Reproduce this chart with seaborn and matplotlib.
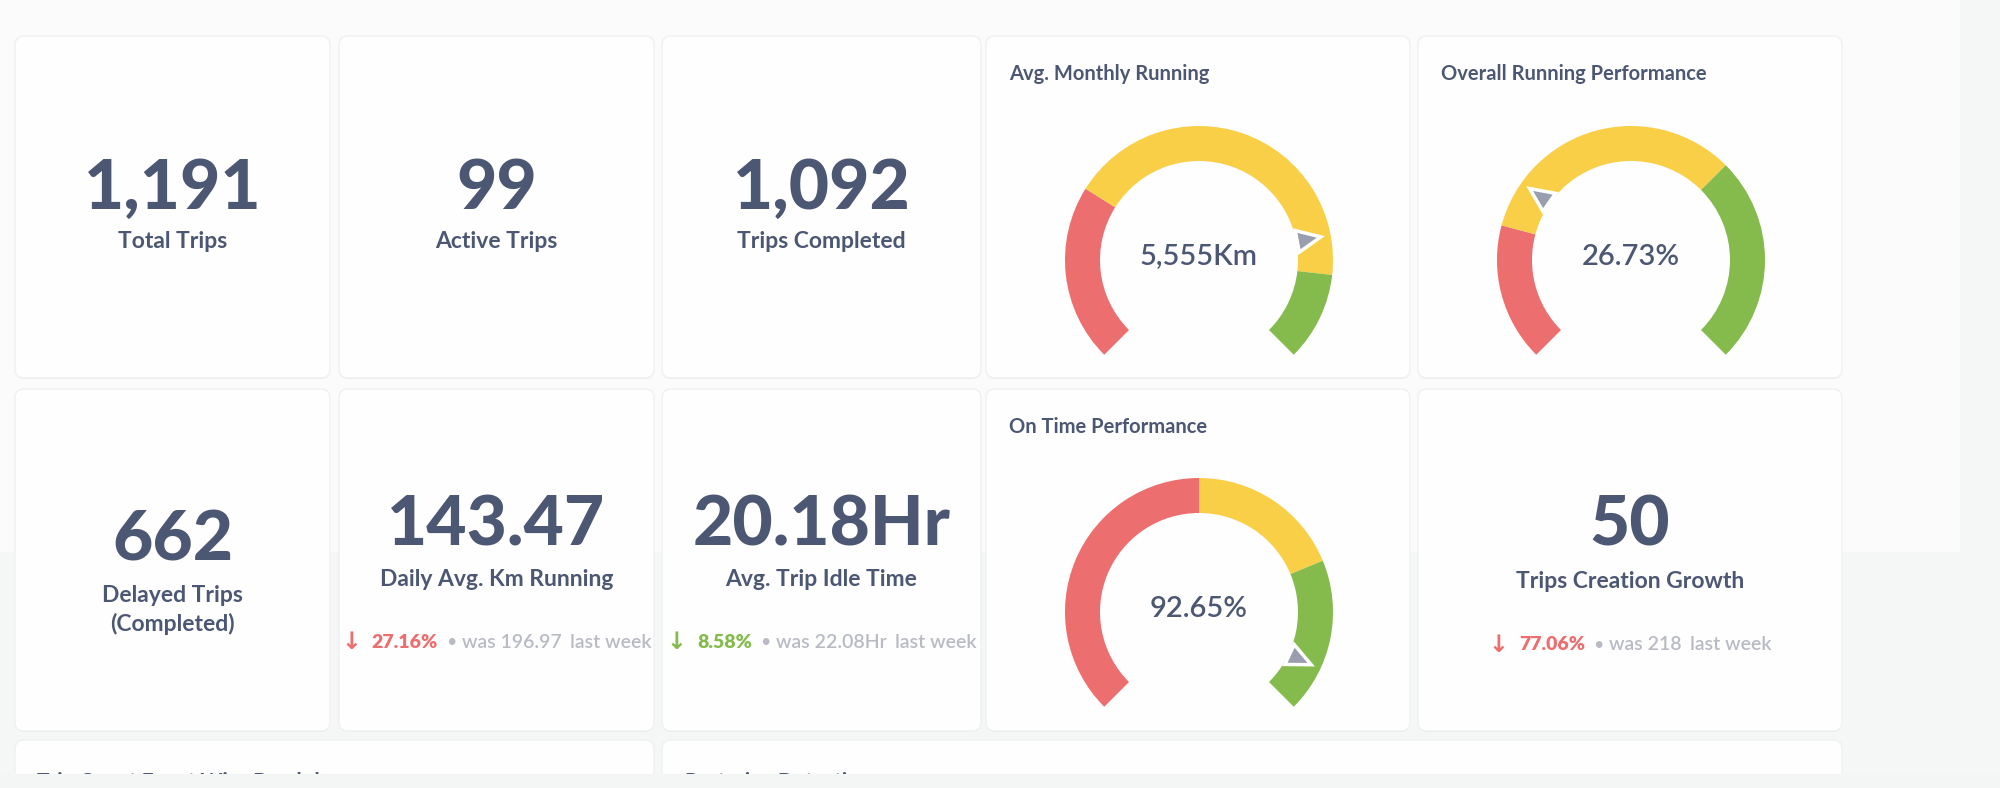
import numpy as np
import seaborn as sns
import matplotlib.pyplot as plt
from matplotlib.patches import FancyBboxPatch, Wedge, Polygon, Rectangle

# ---- data ----
scalar_values = ["1,191", "99", "1,092", "662", "143.47", "20.18Hr", "50"]
scalar_labels = ["Total Trips", "Active Trips", "Trips Completed",
                 "Delayed Trips\n(Completed)", "Daily Avg. Km Running",
                 "Avg. Trip Idle Time", "Trips Creation Growth"]
delta_pct = [None, None, None, None, "27.16%", "8.58%", "77.06%"]
delta_prev = [None, None, None, None, "196.97", "22.08Hr", "218"]
delta_good = [None, None, None, None, False, True, False]

gauge_titles = ["Avg. Monthly Running", "Overall Running Performance", "On Time Performance"]
gauge_values = [5555, 26.73, 92.65]
gauge_labels = ["5,555Km", "26.73%", "92.65%"]
gauge_bounds = [[0, 2000, 6000, 7000], [0, 20, 60, 90], [0, 50, 75, 100]]

bottom_titles = ["Trip Count Event Wise Breakdown", "Pasturing Detection"]

# ---- style ----
sns.set_theme(style="white")
plt.rcParams['font.family'] = ['Lato', 'DejaVu Sans']
dark = "#4c5773"
light = "#b8bbc3"
red, yellow, green = "#ed6e6e", "#f9cf48", "#84bb4c"
pointer_c = "#989eae"

fig = plt.figure(figsize=(20, 7.88), dpi=100)
fig.patch.set_facecolor("#f5f6f6")
ax = fig.add_axes([0, 0, 1, 1])
ax.set_xlim(0, 2000)
ax.set_ylim(788, 0)
ax.axis("off")

# white area behind the top of the grid
ax.add_patch(Rectangle((0, 0), 1960, 552, facecolor="#fbfbfb", edgecolor="none", zorder=0))


def card(x0, y0, x1, y1):
    ax.add_patch(FancyBboxPatch((x0 + 1, y0 + 3), x1 - x0 - 2, y1 - y0 - 2,
                                boxstyle="round,pad=0,rounding_size=9",
                                facecolor="#e6e7e9", edgecolor="none", zorder=1))
    ax.add_patch(FancyBboxPatch((x0, y0), x1 - x0, y1 - y0,
                                boxstyle="round,pad=0,rounding_size=9",
                                facecolor="#fefefe", edgecolor="#eff0f1", lw=1, zorder=2))


# scalar cards: (x0, x1, row)
scalar_boxes = [(15, 330, 0), (339, 654, 0), (662, 981, 0),
                (15, 330, 1), (339, 654, 1), (662, 981, 1), (1418, 1842, 1)]
rows = [(36, 378), (389, 731)]
num_y = [189, 189, 189, 541, 526, 526, 526]
lab_y = [241, 241, 241, 610, 579, 579, 582]
delta_y = [None, None, None, None, 642, 642, 645]

gauge_boxes = [(986, 1410, 0), (1418, 1842, 0), (986, 1410, 1)]

for x0, x1, r in scalar_boxes + gauge_boxes:
    card(x0, rows[r][0], x1, rows[r][1])

# bottom row (cut off by the bottom edge of the screenshot)
card(15, 740, 654, 800)
card(662, 740, 1842, 800)
ax.text(37, 782, bottom_titles[0], fontsize=15, fontweight="bold", color=dark, va="center", zorder=3)
ax.text(685, 782, bottom_titles[1], fontsize=15, fontweight="bold", color=dark, va="center", zorder=3)
ax.add_patch(Rectangle((0, 774), 2000, 20, facecolor="#f4f5f5", edgecolor="none", zorder=10))

renderer = fig.canvas.get_renderer()

for i, (x0, x1, r) in enumerate(scalar_boxes):
    cx = (x0 + x1) / 2
    ax.text(cx, num_y[i], scalar_values[i], fontsize=50, fontweight="black", color=dark,
            ha="center", va="center", zorder=3)
    ax.text(cx, lab_y[i], scalar_labels[i], fontsize=16.5, fontweight="bold", color=dark,
            ha="center", va="center", linespacing=1.35, zorder=3)
    if delta_pct[i] is None:
        continue
    c = green if delta_good[i] else red
    pieces = [("\u2193", c, "bold", 11, 17), (delta_pct[i], c, "heavy", 8, 14),
              ("\u2022", light, "normal", 6, 13), ("was " + delta_prev[i], light, "semibold", 8, 14),
              ("last week", light, "semibold", 0, 14)]
    texts, widths = [], []
    for s, col, w, gap, fs in pieces:
        fam = ["DejaVu Sans"] if s == "\u2193" else ["Lato", "DejaVu Sans"]
        t = ax.text(0, delta_y[i], s, fontsize=fs, fontweight=w, color=col, family=fam,
                    ha="left", va="center", zorder=3)
        texts.append(t)
        widths.append(t.get_window_extent(renderer).width)
    total = sum(widths) + sum(p[3] for p in pieces)
    x = cx - total / 2
    for t, wdt, p in zip(texts, widths, pieces):
        t.set_x(x)
        x += wdt + p[3]

# gauges
g_center_y = [260, 260, 612]
for k, (x0, x1, r) in enumerate(gauge_boxes):
    y0 = rows[r][0]
    ax.text(x0 + 23, y0 + 38, gauge_titles[k], fontsize=14.5, fontweight="bold", color=dark,
            ha="left", va="center", zorder=3)
    cx, cy = (x0 + x1) / 2 + 1, g_center_y[k]
    b = gauge_bounds[k]
    ang = lambda v: 225 - 270 * (v - b[0]) / (b[-1] - b[0])
    for j, col in enumerate([red, yellow, green]):
        a1, a2 = ang(b[j]), ang(b[j + 1])
        ax.add_patch(Wedge((cx, cy), 134, -a1, -a2, width=35, facecolor=col,
                           edgecolor="none", zorder=3))
    th = np.deg2rad(ang(gauge_values[k]))
    u = np.array([np.cos(th), -np.sin(th)])
    p = np.array([-u[1], u[0]])
    c0 = np.array([cx, cy])
    tri = [c0 + 124 * u, c0 + 100 * u + 11 * p, c0 + 100 * u - 11 * p]
    ax.add_patch(Polygon(tri, closed=True, facecolor=pointer_c, edgecolor="white",
                         lw=2.5, joinstyle="miter", zorder=4))
    ax.text(cx, cy - 3, gauge_labels[k], fontsize=21, fontweight="semibold", color=dark,
            ha="center", va="center", zorder=3)

fig.savefig("out.png", dpi=100, facecolor=fig.get_facecolor())
